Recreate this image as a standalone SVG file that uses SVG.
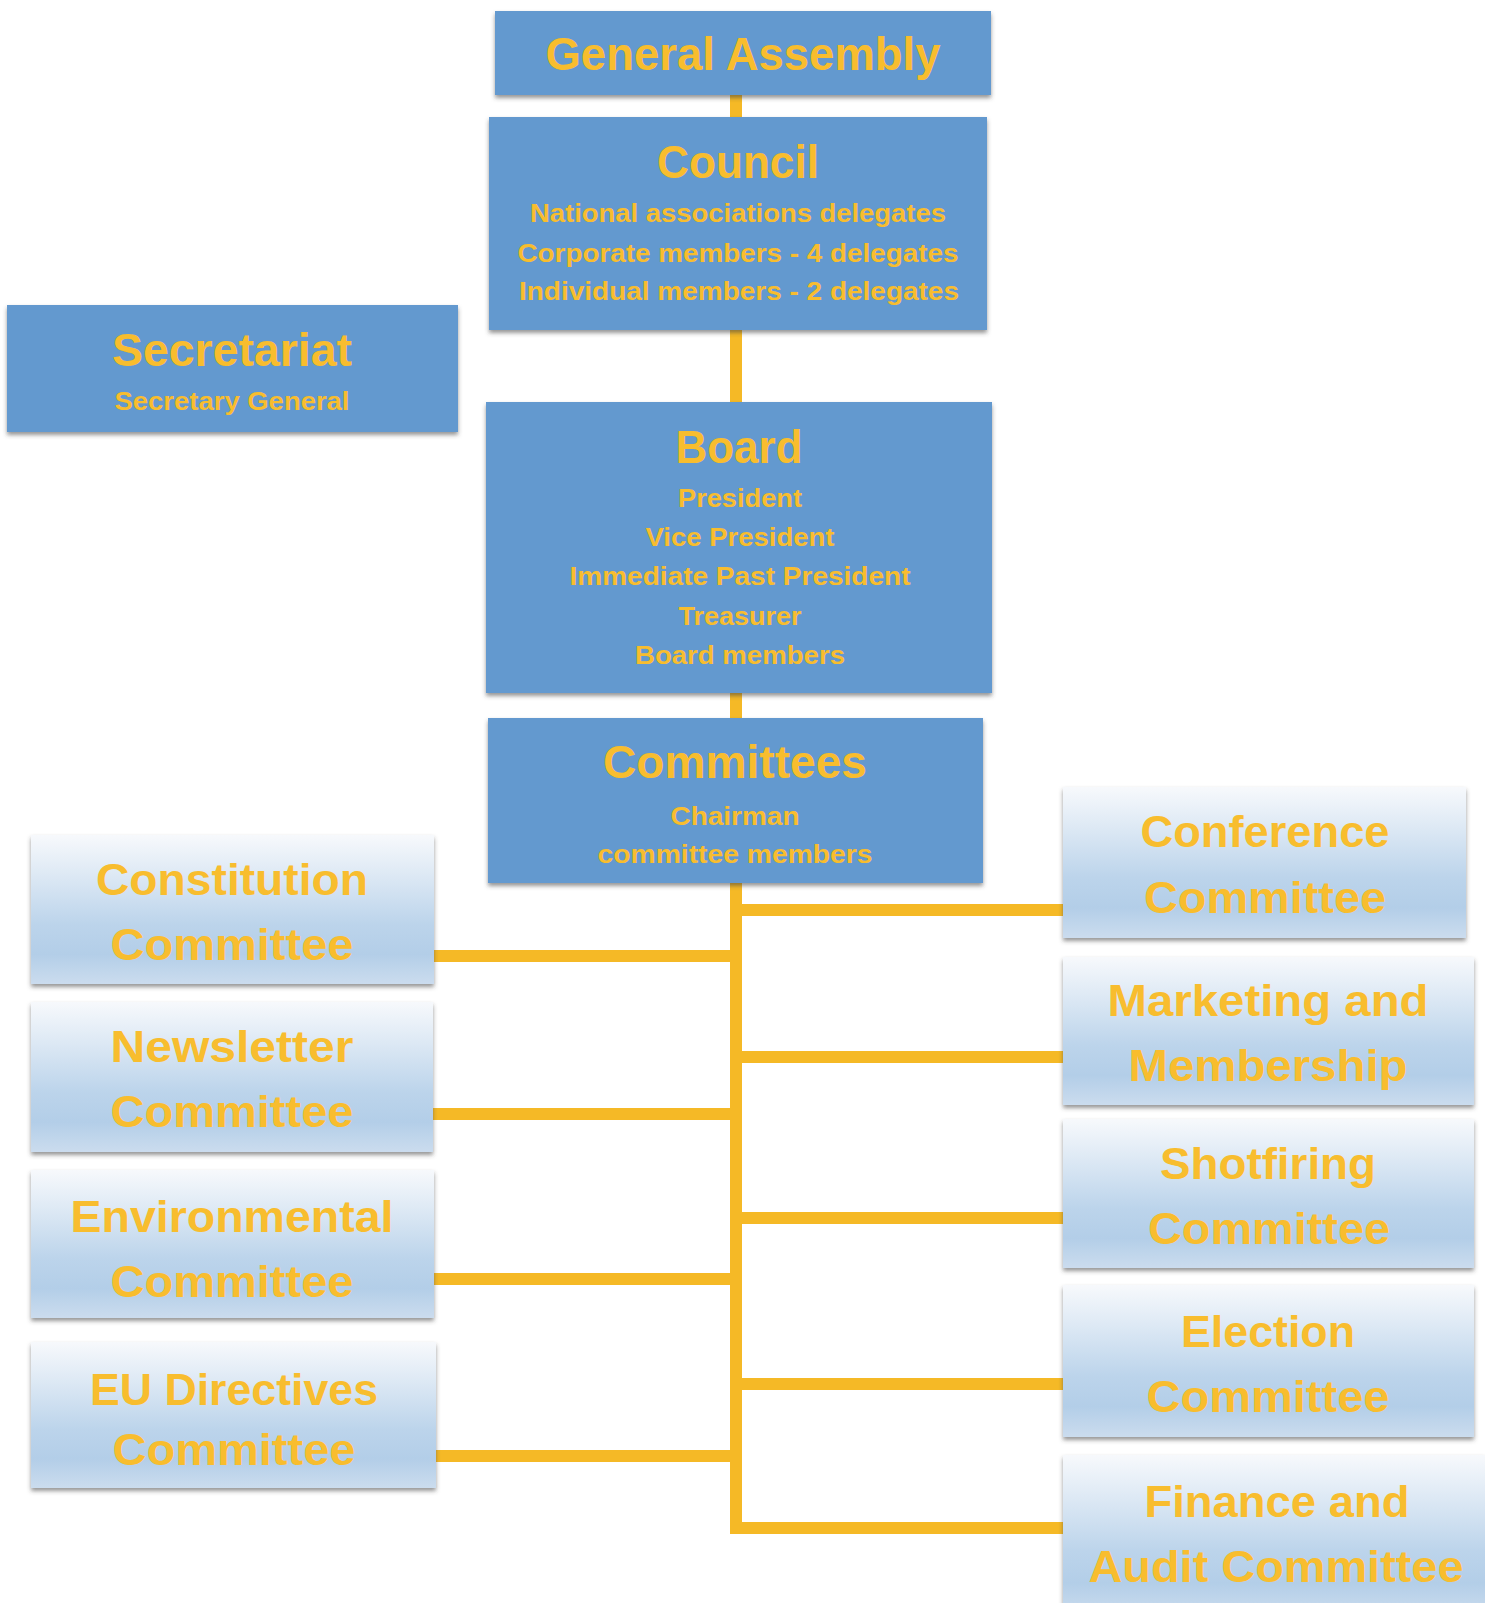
<svg xmlns="http://www.w3.org/2000/svg" width="1485" height="1603" viewBox="0 0 1485 1603">
  <defs>
    <style>
      .blue { fill: #6399cf; filter: url(#shadow); }
      .pale { fill: url(#paleGrad); filter: url(#shadow); }
      text { font-family: "Liberation Sans", Arial, sans-serif; font-weight: bold; fill: #f8bd2e; text-anchor: middle; }
      .title { font-size: 46px; }
      .sub { font-size: 25px; }
      .cm { font-size: 45px; }
      .link { stroke: #f5b926; stroke-width: 12; fill: none; }
    </style>
    <linearGradient id="paleGrad" x1="0" y1="0" x2="0" y2="1">
      <stop offset="0" stop-color="#f7f9fc"/>
      <stop offset="0.25" stop-color="#dfeaf5"/>
      <stop offset="0.6" stop-color="#bcd4eb"/>
      <stop offset="0.8" stop-color="#b3cee8"/>
      <stop offset="1" stop-color="#cbdcee"/>
    </linearGradient>
    <filter id="shadow" x="-5%" y="-5%" width="110%" height="120%">
      <feDropShadow dx="0" dy="3" stdDeviation="2" flood-color="#404040" flood-opacity="0.55"/>
    </filter>
  </defs>

  <rect width="1485" height="1603" fill="#ffffff"/>

  <!-- connectors -->
  <g id="connectors">
    <line class="link" x1="736" y1="94" x2="736" y2="118"/>
    <line class="link" x1="736" y1="330" x2="736" y2="403"/>
    <line class="link" x1="736" y1="692" x2="736" y2="719"/>
    <path class="link" d="M736 882 V1528 H1064" stroke-linejoin="miter"/>
    <!-- left branches -->
    <line class="link" x1="433" y1="956" x2="736" y2="956"/>
    <line class="link" x1="432" y1="1114" x2="736" y2="1114"/>
    <line class="link" x1="433" y1="1279" x2="736" y2="1279"/>
    <line class="link" x1="435" y1="1456" x2="736" y2="1456"/>
    <!-- right branches -->
    <line class="link" x1="736" y1="910" x2="1064" y2="910"/>
    <line class="link" x1="736" y1="1057" x2="1064" y2="1057"/>
    <line class="link" x1="736" y1="1218" x2="1064" y2="1218"/>
    <line class="link" x1="736" y1="1384" x2="1064" y2="1384"/>
  </g>

  <g id="general-assembly">
    <rect class="blue" x="495" y="11" width="496" height="84"/>
    <text class="title" x="743" y="70" textLength="395" lengthAdjust="spacingAndGlyphs">General Assembly</text>
  </g>

  <g id="council">
    <rect class="blue" x="489" y="117" width="498" height="213"/>
    <text class="title" x="738" y="178" textLength="162" lengthAdjust="spacingAndGlyphs">Council</text>
    <text class="sub" x="738" y="222" textLength="416" lengthAdjust="spacingAndGlyphs">National associations delegates</text>
    <text class="sub" x="738" y="262" textLength="441" lengthAdjust="spacingAndGlyphs">Corporate members - 4 delegates</text>
    <text class="sub" x="739" y="300" textLength="440" lengthAdjust="spacingAndGlyphs">Individual members - 2 delegates</text>
  </g>

  <g id="secretariat">
    <rect class="blue" x="7" y="305" width="451" height="127"/>
    <text class="title" x="232" y="366" textLength="240" lengthAdjust="spacingAndGlyphs">Secretariat</text>
    <text class="sub" x="232" y="410" textLength="235" lengthAdjust="spacingAndGlyphs">Secretary General</text>
  </g>

  <g id="board">
    <rect class="blue" x="486" y="402" width="506" height="291"/>
    <text class="title" x="739" y="463" textLength="127" lengthAdjust="spacingAndGlyphs">Board</text>
    <text class="sub" x="740" y="507" textLength="124" lengthAdjust="spacingAndGlyphs">President</text>
    <text class="sub" x="740" y="546" textLength="189" lengthAdjust="spacingAndGlyphs">Vice President</text>
    <text class="sub" x="740" y="585" textLength="341" lengthAdjust="spacingAndGlyphs">Immediate Past President</text>
    <text class="sub" x="740" y="625" textLength="123" lengthAdjust="spacingAndGlyphs">Treasurer</text>
    <text class="sub" x="740" y="664" textLength="210" lengthAdjust="spacingAndGlyphs">Board members</text>
  </g>

  <g id="committees">
    <rect class="blue" x="488" y="718" width="495" height="165"/>
    <text class="title" x="735" y="778" textLength="264" lengthAdjust="spacingAndGlyphs">Committees</text>
    <text class="sub" x="735" y="825" textLength="129" lengthAdjust="spacingAndGlyphs">Chairman</text>
    <text class="sub" x="735" y="863" textLength="275" lengthAdjust="spacingAndGlyphs">committee members</text>
  </g>

  <g id="constitution-committee">
    <rect class="pale" x="31" y="835" width="403" height="149"/>
    <text class="cm" x="232" y="895" textLength="272" lengthAdjust="spacingAndGlyphs">Constitution</text>
    <text class="cm" x="232" y="960" textLength="243" lengthAdjust="spacingAndGlyphs">Committee</text>
  </g>

  <g id="newsletter-committee">
    <rect class="pale" x="31" y="1002" width="402" height="150"/>
    <text class="cm" x="232" y="1062" textLength="243" lengthAdjust="spacingAndGlyphs">Newsletter</text>
    <text class="cm" x="232" y="1127" textLength="243" lengthAdjust="spacingAndGlyphs">Committee</text>
  </g>

  <g id="environmental-committee">
    <rect class="pale" x="31" y="1170" width="403" height="148"/>
    <text class="cm" x="232" y="1232" textLength="323" lengthAdjust="spacingAndGlyphs">Environmental</text>
    <text class="cm" x="232" y="1297" textLength="243" lengthAdjust="spacingAndGlyphs">Committee</text>
  </g>

  <g id="eu-directives-committee">
    <rect class="pale" x="31" y="1342" width="405" height="146"/>
    <text class="cm" x="234" y="1405" textLength="288" lengthAdjust="spacingAndGlyphs">EU Directives</text>
    <text class="cm" x="234" y="1465" textLength="243" lengthAdjust="spacingAndGlyphs">Committee</text>
  </g>

  <g id="conference-committee">
    <rect class="pale" x="1063" y="787" width="403" height="151"/>
    <text class="cm" x="1265" y="847" textLength="249" lengthAdjust="spacingAndGlyphs">Conference</text>
    <text class="cm" x="1265" y="913" textLength="242" lengthAdjust="spacingAndGlyphs">Committee</text>
  </g>

  <g id="marketing-membership">
    <rect class="pale" x="1063" y="957" width="411" height="148"/>
    <text class="cm" x="1268" y="1016" textLength="321" lengthAdjust="spacingAndGlyphs">Marketing and</text>
    <text class="cm" x="1268" y="1081" textLength="279" lengthAdjust="spacingAndGlyphs">Membership</text>
  </g>

  <g id="shotfiring-committee">
    <rect class="pale" x="1063" y="1119" width="411" height="149"/>
    <text class="cm" x="1268" y="1179" textLength="216" lengthAdjust="spacingAndGlyphs">Shotfiring</text>
    <text class="cm" x="1269" y="1244" textLength="242" lengthAdjust="spacingAndGlyphs">Committee</text>
  </g>

  <g id="election-committee">
    <rect class="pale" x="1063" y="1285" width="411" height="152"/>
    <text class="cm" x="1268" y="1347" textLength="174" lengthAdjust="spacingAndGlyphs">Election</text>
    <text class="cm" x="1268" y="1412" textLength="243" lengthAdjust="spacingAndGlyphs">Committee</text>
  </g>

  <g id="finance-audit-committee">
    <rect class="pale" x="1063" y="1455" width="422" height="160"/>
    <text class="cm" x="1277" y="1517" textLength="265" lengthAdjust="spacingAndGlyphs">Finance and</text>
    <text class="cm" x="1276" y="1582" textLength="375" lengthAdjust="spacingAndGlyphs">Audit Committee</text>
  </g>
</svg>
